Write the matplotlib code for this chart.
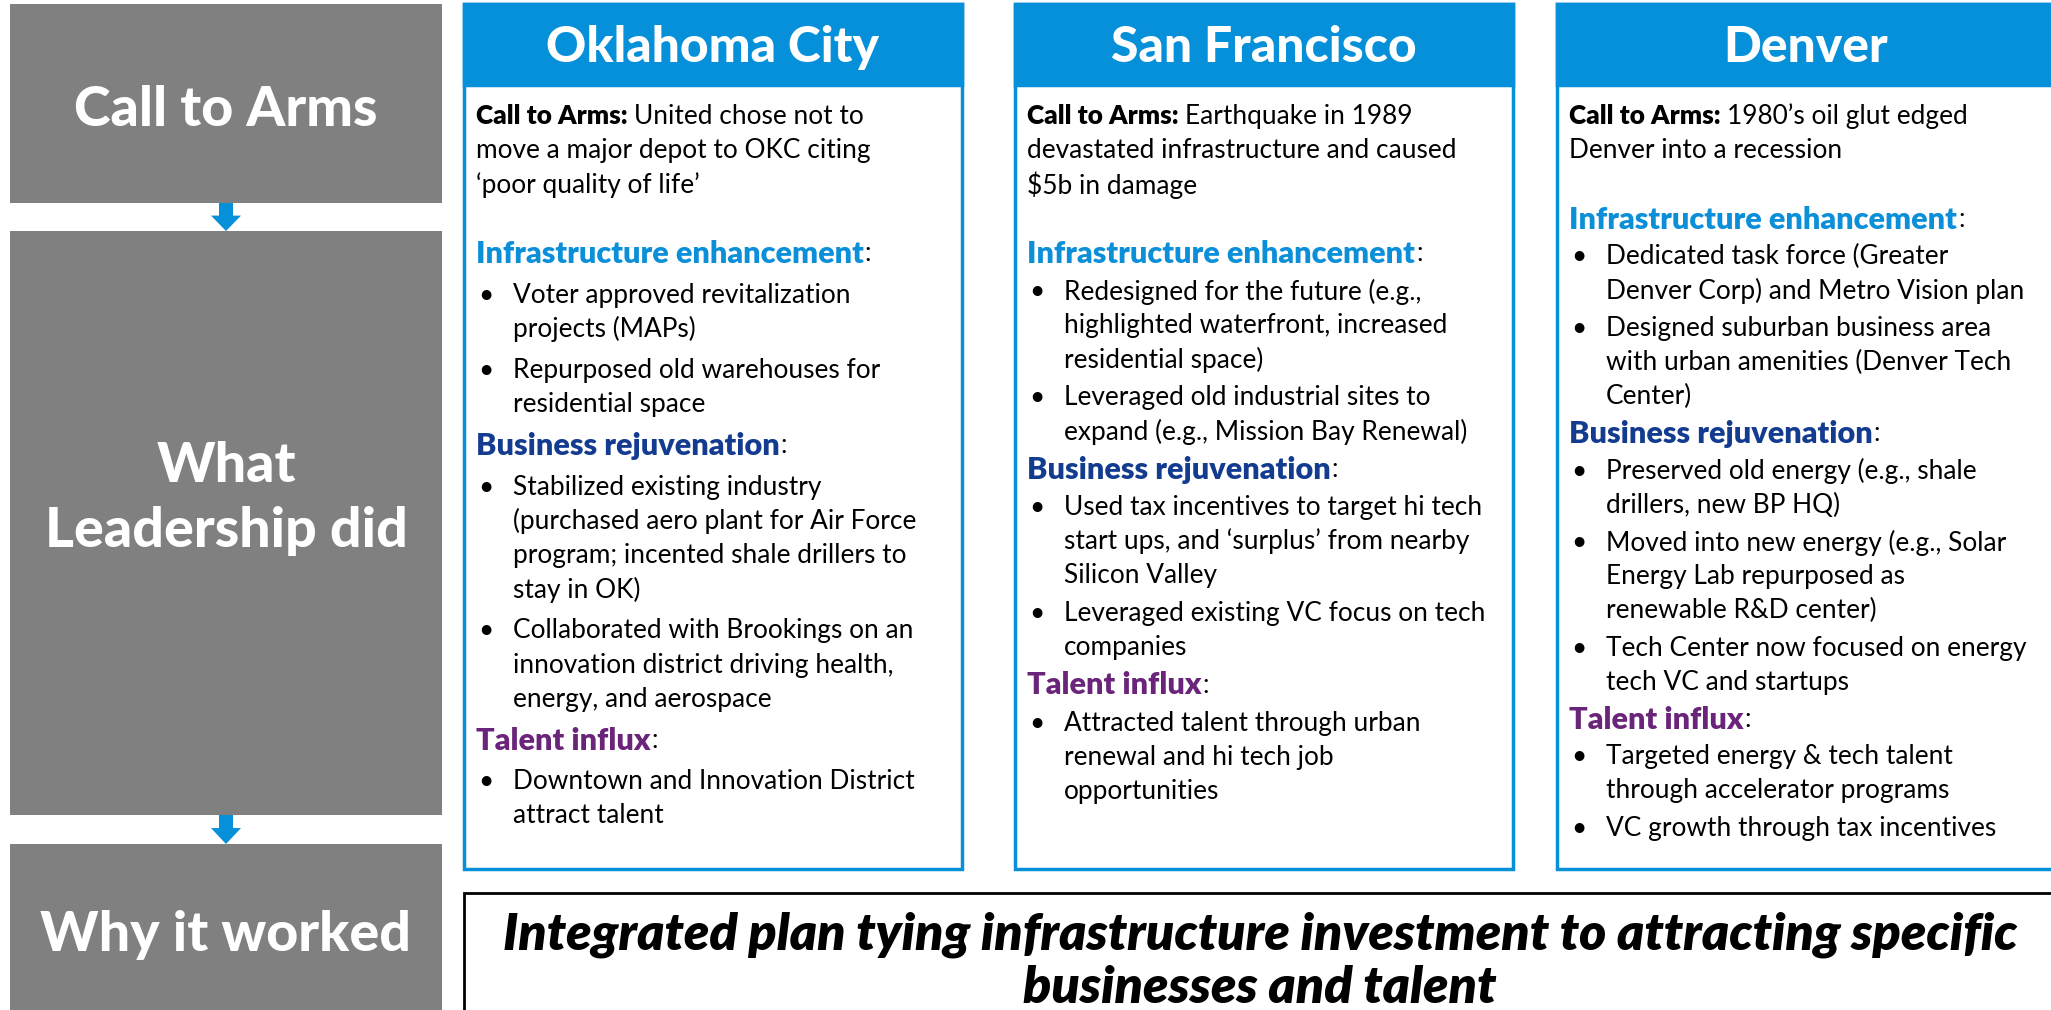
import matplotlib
matplotlib.use("Agg")
import matplotlib.pyplot as plt
from matplotlib.patches import Rectangle, Polygon

# ---------------- data (text content) ----------------
stage_labels = [["Call to Arms"], ["What", "Leadership did"], ["Why it worked"]]
cities = ["Oklahoma City", "San Francisco", "Denver"]
call_label = "Call to Arms:"
call_to_arms = [
    ["United chose not to", "move a major depot to OKC citing", "\u2018poor quality of life\u2019"],
    ["Earthquake in 1989", "devastated infrastructure and caused", "$5b in damage"],
    ["1980\u2019s oil glut edged", "Denver into a recession"],
]
section_titles = ["Infrastructure enhancement", "Business rejuvenation", "Talent influx"]
okc_bullets = [
    [["Voter approved revitalization", "projects (MAPs)"],
     ["Repurposed old warehouses for", "residential space"]],
    [["Stabilized existing industry", "(purchased aero plant for Air Force",
      "program; incented shale drillers to", "stay in OK)"],
     ["Collaborated with Brookings on an", "innovation district driving health,",
      "energy, and aerospace"]],
    [["Downtown and Innovation District", "attract talent"]],
]
sf_bullets = [
    [["Redesigned for the future (e.g.,", "highlighted waterfront, increased",
      "residential space)"],
     ["Leveraged old industrial sites to", "expand (e.g., Mission Bay Renewal)"]],
    [["Used tax incentives to target hi tech", "start ups, and \u2018surplus\u2019 from nearby",
      "Silicon Valley"],
     ["Leveraged existing VC focus on tech", "companies"]],
    [["Attracted talent through urban", "renewal and hi tech job", "opportunities"]],
]
denver_bullets = [
    [["Dedicated task force (Greater", "Denver Corp) and Metro Vision plan"],
     ["Designed suburban business area", "with urban amenities (Denver Tech", "Center)"]],
    [["Preserved old energy (e.g., shale", "drillers, new BP HQ)"],
     ["Moved into new energy (e.g., Solar", "Energy Lab repurposed as",
      "renewable R&D center)"],
     ["Tech Center now focused on energy", "tech VC and startups"]],
    [["Targeted energy & tech talent", "through accelerator programs"],
     ["VC growth through tax incentives"]],
]
city_bullets = [okc_bullets, sf_bullets, denver_bullets]
conclusion = ["Integrated plan tying infrastructure investment to attracting specific",
              "businesses and talent"]

# ---------------- styling ----------------
W, H = 2051, 1010
FONT = "Lato"
GRAY = "#808080"
BLUE = "#0790DA"
SECTION_COLORS = ["#0B8FD8", "#133B8F", "#6A2479"]

fig = plt.figure(figsize=(W / 100, H / 100), dpi=100)
ax = fig.add_axes([0, 0, 1, 1])
ax.set_xlim(0, W)
ax.set_ylim(H, 0)
ax.axis("off")
renderer = fig.canvas.get_renderer()


def text_width(s, size, weight="normal", style="normal"):
    t = ax.text(0, 0, s, fontsize=size, fontweight=weight, fontstyle=style, family=FONT)
    w = t.get_window_extent(renderer).width
    t.remove()
    return w


def fit(s, target, weight="normal", style="normal"):
    return 20.0 * target / text_width(s, 20, weight, style)


body_size = min(fit("move a major depot to OKC citing", 419),
                fit("Denver Corp) and Metro Vision plan", 418),
                fit("Tech Center now focused on energy", 430))
head_size = fit("Infrastructure enhancement", 388, "heavy")
title_size = fit("Oklahoma City", 334, "black")
stage_size = fit("Call to Arms", 305, "black")
concl_size = fit(conclusion[0], 1513, "heavy", "italic")
space_w = text_width("a a", body_size) - text_width("aa", body_size)

# ---------------- left stage boxes ----------------
stage_boxes = [(4, 203), (231, 815), (844, 1015)]
stage_x0, stage_x1 = 10, 442
for (y0, y1), lines in zip(stage_boxes, stage_labels):
    ax.add_patch(Rectangle((stage_x0, y0), stage_x1 - stage_x0, y1 - y0,
                           facecolor=GRAY, edgecolor="none"))
cx = (stage_x0 + stage_x1) / 2
label_centers = [[105], [462, 527], [930]]
for lines, ys in zip(stage_labels, label_centers):
    for s, y in zip(lines, ys):
        ax.text(cx, y, s, color="white", fontsize=stage_size, fontweight="black",
                family=FONT, ha="center", va="center_baseline")

# arrows between stage boxes
for ya, yb in [(stage_boxes[0][1], stage_boxes[1][0]), (stage_boxes[1][1], stage_boxes[2][0])]:
    mid = ya + (yb - ya) * 0.45
    pts = [(cx - 7, ya), (cx + 7, ya), (cx + 7, mid), (cx + 15, mid),
           (cx, yb), (cx - 15, mid), (cx - 7, mid)]
    ax.add_patch(Polygon(pts, closed=True, facecolor=BLUE, edgecolor="none"))

# ---------------- city columns ----------------
col_x0 = [464, 1015, 1557]
col_w = 498
box_top, box_bot = 4, 869
header_h = 81
LINE = 34.2
space_before = [7, 3.5, 3]
INDENT = 37

for ci, (city, x0) in enumerate(zip(cities, col_x0)):
    ax.add_patch(Rectangle((x0, box_top), col_w, box_bot - box_top,
                           facecolor="white", edgecolor=BLUE, lw=2.5))
    ax.add_patch(Rectangle((x0, box_top), col_w, header_h,
                           facecolor=BLUE, edgecolor=BLUE, lw=2.5))
    ax.text(x0 + col_w / 2, 44, city, color="white", fontsize=title_size,
            fontweight="black", family=FONT, ha="center", va="center_baseline")

    tx = x0 + 12
    y = 114
    # call to arms paragraph
    lb = ax.text(tx, y, call_label, fontsize=body_size, fontweight="heavy",
                 family=FONT, color="black", ha="left", va="center_baseline")
    bw = lb.get_window_extent(renderer).width
    for li, s in enumerate(call_to_arms[ci]):
        xx = tx + bw + space_w if li == 0 else tx
        ax.text(xx, y, s, fontsize=body_size, family=FONT, color="black",
                ha="left", va="center_baseline")
        if li < len(call_to_arms[ci]) - 1:
            y += LINE
    y += 69 - LINE - space_before[ci]

    for si, title in enumerate(section_titles):
        y += LINE + space_before[ci]
        ht = ax.text(tx, y, title, fontsize=head_size, fontweight="heavy",
                     family=FONT, color=SECTION_COLORS[si], ha="left",
                     va="center_baseline")
        hw = ht.get_window_extent(renderer).width
        ax.text(tx + hw + 1, y, ":", fontsize=body_size, family=FONT,
                color="black", ha="left", va="center_baseline")
        for bullet in city_bullets[ci][si]:
            y += LINE + space_before[ci]
            ax.text(tx + 2, y, "\u2022", fontsize=body_size, family=FONT,
                    color="black", ha="left", va="center_baseline")
            for li, s in enumerate(bullet):
                if li > 0:
                    y += LINE
                ax.text(tx + INDENT, y, s, fontsize=body_size, family=FONT,
                        color="black", ha="left", va="center_baseline")

# ---------------- conclusion box ----------------
ax.add_patch(Rectangle((464, 893), 1592, 140, facecolor="white",
                       edgecolor="black", lw=2))
for s, y in zip(conclusion, [930, 984]):
    ax.text(1260, y, s, fontsize=concl_size, fontweight="heavy", fontstyle="italic",
            family=FONT, color="black", ha="center", va="center_baseline")

fig.savefig("out.png", dpi=100)
